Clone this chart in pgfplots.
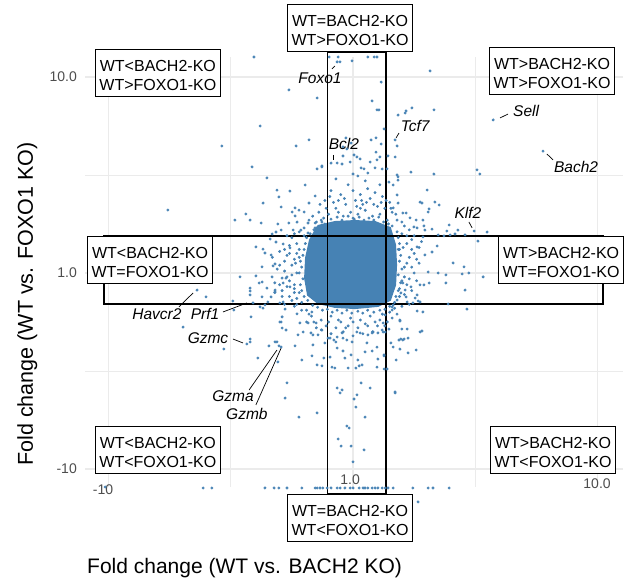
\documentclass[border=0pt]{standalone}
\usepackage{fontspec}
\setmainfont{Liberation Sans}
\usepackage{pgfplots}
\pgfplotsset{compat=1.18}
\definecolor{pt}{HTML}{4682B4}
\definecolor{grd}{HTML}{EBEBEB}
\definecolor{tk}{HTML}{4D4D4D}

\tikzset{
  qbox/.style={draw=black, line width=0.8bp, fill=white, inner xsep=4bp, inner ysep=6bp,
    align=center, font=\fontsize{16bp}{19.3bp}\selectfont},
  gene/.style={font=\fontsize{15.5bp}{18bp}\selectfont\itshape, inner sep=0pt},
  seg/.style={line width=0.7bp, black},
  xtl/.style={font=\fontsize{14bp}{16bp}\selectfont, text=tk, inner sep=0pt},
}
\newcommand{\st}{\rule{0pt}{16bp}}

\begin{document}
\begin{tikzpicture}
\begin{axis}[
  at={(0,0)}, anchor=south west,
  width=538bp, height=430bp, scale only axis,
  xmin=-1.096, xmax=1.104, ymin=-1.092, ymax=1.102,
  clip=false,
  axis line style={draw=none},
  tick style={draw=none},
  xtick={-1,0,1}, minor xtick={-0.5,0.5}, xticklabels={,,},
  ytick={-1,0,1}, minor ytick={-0.5,0.5}, yticklabels={-10,1.0,10.0},
  yticklabel style={font=\fontsize{14bp}{16bp}\selectfont, text=tk, anchor=east, inner sep=0pt, xshift=-8bp},
  grid=both,
  major grid style={grd, line width=1.1bp},
  minor grid style={grd, line width=0.55bp},
]
% dense core of the cloud
\addplot[fill=pt, draw=pt, line width=2bp] coordinates {
  (-0.143,0.240)(-0.074,0.260)(0.008,0.265)(0.090,0.260)(0.151,0.230)(0.172,0.143)
  (0.176,0.041)(0.172,-0.061)(0.151,-0.138)(0.102,-0.168)(0.008,-0.179)(-0.074,-0.173)
  (-0.143,-0.153)(-0.184,-0.112)(-0.196,-0.026)(-0.192,0.077)(-0.176,0.168)(-0.143,0.240)
};
% individual genes
\addplot[pt, only marks, mark=*, mark size=1.25bp] coordinates {
  (-0.098,1.102)(-0.061,1.102)(-0.053,1.077)(-0.004,1.082)(0.061,1.102)(0.086,1.102)(0.098,1.102)(-0.065,1.077)(-0.405,1.102)
  (-0.262,0.934)(-0.147,0.893)(0.315,1.031)(0.115,0.974)(0.078,0.878)(0.098,0.832)(0.106,0.832)(-0.380,0.750)(-0.536,0.648)
  (-0.233,0.648)(-0.180,0.679)(-0.413,0.541)(-0.352,0.485)(-0.196,0.449)(-0.757,0.321)(-0.311,0.423)(-0.258,0.418)(-0.368,0.357)
  (-0.155,0.393)(-0.303,0.388)(-0.147,0.531)(-0.127,0.546)(-0.180,0.357)(-0.294,0.337)(-0.237,0.332)(-0.221,0.321)(-0.200,0.311)
  (-0.249,0.311)(-0.237,0.291)(-0.438,0.301)(-0.483,0.270)(-0.421,0.270)(-0.376,0.255)(-0.307,0.250)(-0.262,0.255)(-0.229,0.260)
  (-0.184,0.255)(-0.155,0.255)(-0.127,0.260)(-0.155,0.230)(-0.315,0.209)(-0.294,0.219)(-0.245,0.219)(-0.213,0.219)(-0.184,0.204)
  (-0.143,0.209)(-0.331,0.199)
  (0.184,0.806)(0.213,0.816)(0.241,0.842)(0.331,0.832)(0.217,0.827)(0.127,0.735)(0.172,0.679)(0.180,0.648)(0.172,0.592)
  (0.143,0.597)(0.115,0.658)(0.094,0.689)(0.074,0.679)(0.094,0.617)(0.110,0.592)(0.098,0.577)(0.070,0.566)(-0.008,0.663)
  (-0.029,0.689)(-0.025,0.633)(0.004,0.602)(0.016,0.592)(0.029,0.582)(-0.012,0.566)(-0.045,0.556)(-0.065,0.561)(-0.090,0.561)
  (-0.127,0.541)(0.033,0.536)(0.045,0.531)(0.061,0.510)(0.090,0.536)(0.119,0.531)(0.139,0.531)(0.180,0.500)(0.237,0.515)
  (0.331,0.505)(0.507,0.526)(0.519,0.505)(0.000,0.505)(0.020,0.495)(-0.041,0.597)(-0.041,0.643)(0.184,0.474)(0.164,0.449)
  (0.147,0.464)(0.184,0.490)(0.180,0.398)(0.303,0.423)(0.274,0.362)(0.311,0.327)(0.307,0.311)(0.335,0.362)(0.352,0.347)
  (0.282,0.357)(0.233,0.281)(0.258,0.270)(0.286,0.270)(0.204,0.306)(0.184,0.357)(0.164,0.332)(0.217,0.306)
  (0.573,0.781)(0.777,0.622)
  (0.384,0.214)(0.393,0.245)(0.417,0.199)(0.429,0.219)(0.495,0.214)(0.548,0.209)(0.511,0.163)(0.458,0.194)(0.397,0.194)
  (0.348,0.194)(0.294,0.219)(0.262,0.230)(0.290,0.240)(0.249,0.235)(0.323,0.224)(0.372,0.189)(0.344,0.138)(0.286,0.184)
  (0.294,0.092)(0.323,0.107)(0.262,0.133)(0.409,0.051)(0.454,0.031)(0.446,-0.005)(0.474,0.000)(0.380,-0.010)(0.348,0.000)
  (0.307,0.005)(0.532,-0.020)(0.380,-0.051)(0.274,-0.061)(0.290,-0.061)(0.204,-0.051)(0.254,-0.128)(0.266,-0.143)(0.221,-0.148)
  (0.151,-0.122)
  (0.311,-0.051)(0.237,-0.071)(0.262,-0.112)(0.213,-0.087)(0.217,-0.122)(0.196,-0.102)(0.180,-0.138)(0.245,-0.153)(0.274,-0.148)
  (0.389,-0.158)(0.458,-0.087)(0.466,-0.184)(0.262,-0.194)(0.286,-0.199)(0.192,-0.240)(0.147,-0.286)(0.200,-0.286)(0.221,-0.286)
  (0.131,-0.301)(0.274,-0.301)(0.282,-0.296)(0.196,-0.337)(0.209,-0.337)(0.225,-0.332)(0.155,-0.357)(0.164,-0.378)(0.258,-0.393)
  (0.225,-0.408)(0.127,-0.418)(0.176,-0.444)(0.127,-0.490)(0.172,-0.612)(0.160,-0.173)(0.160,-0.189)
  (-0.397,0.133)(-0.368,0.122)(-0.339,0.173)(-0.315,0.158)(-0.286,0.148)(-0.258,0.128)(-0.360,0.102)(-0.335,0.092)(-0.372,0.031)
  (-0.327,0.036)(-0.319,0.046)(-0.397,-0.015)(-0.372,-0.046)(-0.331,-0.020)(-0.290,-0.026)(-0.274,-0.026)(-0.286,-0.051)
  (-0.258,-0.071)(-0.319,-0.087)(-0.372,-0.122)(-0.335,-0.122)(-0.286,-0.148)(-0.421,-0.077)(-0.417,-0.224)(-0.380,-0.173)
  (-0.360,-0.163)(-0.290,-0.224)(-0.229,-0.209)(-0.217,-0.255)(-0.184,-0.255)(-0.204,-0.301)(-0.172,-0.306)(-0.143,-0.316)
  (-0.294,-0.250)(-0.225,-0.316)(-0.164,-0.367)(-0.115,-0.357)(-0.102,-0.332)(-0.065,-0.327)(-0.045,-0.306)(-0.025,-0.342)
  (-0.004,-0.352)(0.016,-0.301)(0.061,-0.316)(0.082,-0.301)(0.102,-0.306)(0.057,-0.357)(0.098,-0.378)(0.123,-0.301)(0.123,-0.255)
  (0.131,-0.214)(-0.421,-0.352)(-0.311,-0.352)
  (-0.462,-0.020)(-0.384,-0.051)(-0.352,-0.077)(-0.319,-0.097)(-0.368,-0.179)(-0.348,-0.148)(-0.299,-0.153)(-0.278,-0.184)
  (-0.638,-0.087)(-0.601,-0.122)(-0.695,-0.276)(-0.528,-0.388)(-0.487,-0.189)(-0.491,-0.143)(-0.434,-0.362)(-0.421,-0.337)
  (-0.389,-0.434)(-0.421,-0.092)(-0.421,-0.112)(-0.409,-0.153)(-0.319,-0.352)(-0.344,-0.372)(-0.303,-0.372)(-0.294,-0.378)
  (-0.307,-0.454)(-0.270,-0.561)(-0.278,-0.638)(-0.221,-0.735)(-0.147,-0.714)(-0.237,-0.372)(-0.290,-0.281)(-0.299,-0.250)
  (-0.274,-0.291)(-0.209,-0.444)(-0.168,-0.423)
  (-0.168,-0.199)(-0.151,-0.255)(-0.127,-0.291)(-0.164,-0.316)(-0.094,-0.332)(-0.078,-0.342)(-0.070,-0.352)(-0.041,-0.332)
  (0.000,-0.321)(0.029,-0.306)(0.078,-0.306)(0.119,-0.291)(0.192,-0.245)(0.204,-0.342)(0.188,-0.342)(0.164,-0.163)(-0.065,-0.383)
  (-0.041,-0.398)(-0.033,-0.434)(-0.008,-0.418)(0.020,-0.444)(0.049,-0.403)(0.078,-0.398)(0.102,-0.439)(0.127,-0.423)(0.139,-0.490)
  (0.192,-0.388)(-0.094,-0.429)(-0.119,-0.434)(-0.086,-0.480)(-0.074,-0.485)(-0.127,-0.474)(-0.147,-0.469)(-0.020,-0.485)
  (0.012,-0.485)(0.025,-0.474)(0.037,-0.469)(0.098,-0.480)(-0.065,-0.587)(-0.045,-0.597)(-0.053,-0.612)(0.070,-0.587)(0.033,-0.561)
  (0.016,-0.622)(0.004,-0.643)(0.012,-0.684)(0.049,-0.735)(-0.025,-0.781)(-0.016,-0.791)(-0.061,-0.847)(-0.049,-0.883)
  (-0.008,-0.883)(0.045,-0.903)(0.000,-0.964)(0.172,-0.607)
  (-0.613,-1.097)(-0.577,-1.097)(-0.360,-1.097)(-0.323,-1.097)(-0.303,-1.097)(-0.270,-1.097)(-0.209,-1.097)(-0.155,-1.097)
  (-0.147,-1.097)(-0.135,-1.097)(-0.123,-1.097)(-0.106,-1.097)(-0.090,-1.097)(-0.065,-1.097)(-0.053,-1.097)(-0.033,-1.097)
  (-0.012,-1.097)(0.000,-1.097)(0.025,-1.097)(0.041,-1.097)(0.049,-1.097)(0.061,-1.097)(0.078,-1.097)(0.090,-1.097)
  (0.102,-1.097)(0.119,-1.097)(0.131,-1.097)(0.143,-1.097)(0.164,-1.097)(0.245,-1.097)(0.307,-1.097)(0.327,-1.097)
  (0.393,-1.097)(-1.014,-1.092)(0.266,-1.168)
  (-0.10,0.30)(-0.07,0.33)(-0.04,0.29)(-0.01,0.31)(0.02,0.30)(0.05,0.32)(0.08,0.29)(0.11,0.30)(0.14,0.27)(-0.12,0.28)
  (-0.08,0.36)(-0.03,0.35)(0.01,0.37)(0.04,0.35)(0.07,0.38)(0.10,0.34)(0.13,0.33)(-0.11,0.33)(-0.05,0.40)(0.00,0.42)
  (0.03,0.40)(0.06,0.43)(0.09,0.41)(0.12,0.39)(-0.09,0.42)(-0.02,0.45)(0.05,0.47)(0.11,0.45)(-0.07,0.48)(0.15,0.36)
  (0.16,0.31)(-0.14,0.31)(0.00,0.28)(0.03,0.33)(-0.06,0.31)
  (-0.23,0.15)(-0.26,0.10)(-0.22,0.08)(-0.25,0.04)(-0.28,0.06)(-0.23,0.00)(-0.27,-0.02)(-0.24,-0.06)(-0.22,-0.10)(-0.26,-0.12)
  (-0.21,-0.15)(-0.30,0.11)(-0.31,0.02)(-0.29,-0.09)(-0.25,0.18)(-0.20,0.19)(-0.32,-0.05)(-0.24,-0.17)(-0.28,-0.16)(-0.19,-0.19)
  (-0.33,0.08)(-0.22,0.12)(-0.26,-0.04)(-0.23,-0.13)
  (0.20,0.20)(0.22,0.15)(0.19,0.12)(0.23,0.08)(0.21,0.03)(0.25,0.00)(0.20,-0.04)(0.23,-0.03)(0.19,-0.08)(0.27,0.05)
  (0.24,0.12)(0.26,-0.04)(0.21,0.24)(0.18,0.27)(0.28,0.16)(0.19,-0.12)(0.22,0.19)(0.25,0.10)
  (-0.17,-0.22)(-0.13,-0.24)(-0.09,-0.22)(-0.05,-0.25)(-0.01,-0.23)(0.03,-0.24)(0.07,-0.22)(0.11,-0.24)(0.15,-0.20)(-0.11,-0.27)
  (-0.07,-0.28)(-0.02,-0.27)(0.02,-0.28)(0.06,-0.27)(0.10,-0.27)(0.14,-0.25)(-0.15,-0.28)(-0.09,-0.31)(-0.04,-0.30)(0.04,-0.31)
  (0.08,-0.30)(-0.19,-0.25)(0.17,-0.18)(0.12,-0.21)
  (-0.15,0.26)(-0.13,0.27)(-0.115,0.25)(-0.09,0.275)(-0.065,0.285)(-0.045,0.27)(-0.02,0.29)(0.005,0.275)(0.025,0.285)
  (0.045,0.27)(0.065,0.28)(0.085,0.27)(0.105,0.285)(0.125,0.26)(0.145,0.25)(0.16,0.24)(-0.16,0.22)
  (0.18,0.21)(0.185,0.18)(0.19,0.15)(0.185,0.12)(0.195,0.09)(0.19,0.06)(0.20,0.02)(0.185,-0.01)(0.195,-0.05)(0.185,-0.09)
  (0.175,-0.12)(0.17,-0.15)(0.205,0.13)(0.21,-0.02)
  (0.15,-0.17)(0.13,-0.185)(0.11,-0.19)(0.085,-0.20)(0.06,-0.19)(0.04,-0.205)(0.02,-0.195)(-0.005,-0.205)(-0.025,-0.19)
  (-0.045,-0.205)(-0.065,-0.19)(-0.085,-0.20)(-0.105,-0.185)(-0.125,-0.19)(-0.145,-0.175)(-0.165,-0.165)(-0.185,-0.14)
  (-0.20,-0.12)(-0.21,-0.09)(-0.215,-0.06)(-0.205,-0.03)(-0.22,0.00)(-0.21,0.03)(-0.215,0.06)(-0.205,0.09)(-0.20,0.12)
  (-0.195,0.15)(-0.19,0.18)(-0.175,0.20)(-0.235,0.05)(-0.24,-0.08)(-0.23,0.10)
  (-0.135,0.35)(-0.115,0.37)(-0.095,0.39)(-0.06,0.37)(-0.035,0.38)(0.015,0.34)(0.035,0.37)(0.055,0.36)(0.085,0.35)
  (0.115,0.36)(0.135,0.37)(0.155,0.33)(0.175,0.30)(-0.165,0.29)(-0.18,0.27)
  (-0.20,0.23)(-0.22,0.21)(-0.24,0.20)(-0.27,0.19)(-0.26,0.14)(-0.28,0.12)
  (0.20,0.26)(0.23,0.22)(0.25,0.19)(0.24,0.17)(0.27,0.13)(0.26,0.07)
  (0.22,0.05)(0.24,0.03)(0.22,-0.06)(0.24,-0.09)(0.21,-0.11)(0.23,-0.16)(0.20,-0.17)(0.18,-0.21)
  (0.16,-0.23)(0.13,-0.27)(0.09,-0.25)(0.05,-0.26)(0.00,-0.25)(-0.03,-0.28)(-0.06,-0.24)(-0.10,-0.25)(-0.13,-0.29)
  (-0.16,-0.25)(-0.18,-0.21)(-0.21,-0.19)
  (-0.23,-0.16)(-0.25,-0.14)(-0.24,-0.10)(-0.27,-0.07)(-0.25,-0.01)(-0.28,0.01)(-0.24,0.07)(-0.27,0.09)(-0.30,0.04)
  (-0.30,-0.06)(-0.29,-0.12)(-0.32,-0.10)
};
% threshold bands
\draw[line width=1.2bp, black] (axis cs:-1.018,-0.158) rectangle (axis cs:1.022,0.189);
\draw[line width=1.2bp, black] (axis cs:-0.106,-1.128) rectangle (axis cs:0.135,1.128);
% quadrant boxes
\node[qbox] at (axis cs:-0.012,1.25) {\st WT=BACH2-KO\\WT>FOXO1-KO};
\node[qbox] at (axis cs:-0.798,1.020) {\st WT<BACH2-KO\\WT>FOXO1-KO};
\node[qbox] at (axis cs:0.814,1.031) {\st WT>BACH2-KO\\WT>FOXO1-KO};
\node[qbox] at (axis cs:-0.830,0.066) {\st WT<BACH2-KO\\WT=FOXO1-KO};
\node[qbox] at (axis cs:0.851,0.066) {\st WT>BACH2-KO\\WT=FOXO1-KO};
\node[qbox] at (axis cs:-0.798,-0.903) {\st WT<BACH2-KO\\WT<FOXO1-KO};
\node[qbox] at (axis cs:0.818,-0.903) {\st WT>BACH2-KO\\WT<FOXO1-KO};
\node[qbox] at (axis cs:-0.012,-1.25) {\st WT=BACH2-KO\\WT<FOXO1-KO};
% gene labels
\node[gene] at (axis cs:-0.135,0.995) {Foxo1};
\draw[seg] (axis cs:-0.086,1.041) -- (axis cs:-0.074,1.056);
\node[gene] at (axis cs:-0.037,0.658) {Bcl2};
\draw[seg] (axis cs:-0.082,0.602) -- (axis cs:-0.082,0.577);
\node[gene] at (axis cs:0.254,0.750) {Tcf7};
\draw[seg] (axis cs:0.188,0.714) -- (axis cs:0.176,0.689);
\node[gene] at (axis cs:0.708,0.827) {Sell};
\draw[seg] (axis cs:0.601,0.791) -- (axis cs:0.634,0.811);
\node[gene] at (axis cs:0.912,0.541) {Bach2};
\draw[seg] (axis cs:0.793,0.607) -- (axis cs:0.818,0.577);
\node[gene] at (axis cs:0.470,0.306) {Klf2};
\draw[seg] (axis cs:0.474,0.260) -- (axis cs:0.487,0.230);
\node[gene] at (axis cs:-0.802,-0.209) {Havcr2};
\draw[seg] (axis cs:-0.712,-0.173) -- (axis cs:-0.654,-0.102);
\node[gene] at (axis cs:-0.605,-0.209) {Prf1};
\draw[seg] (axis cs:-0.532,-0.199) -- (axis cs:-0.434,-0.153);
\node[gene] at (axis cs:-0.593,-0.332) {Gzmc};
\draw[seg] (axis cs:-0.491,-0.337) -- (axis cs:-0.450,-0.357);
\node[gene] at (axis cs:-0.491,-0.628) {Gzma};
\draw[seg] (axis cs:-0.425,-0.597) -- (axis cs:-0.311,-0.393);
\node[gene] at (axis cs:-0.434,-0.719) {Gzmb};
\draw[seg] (axis cs:-0.397,-0.673) -- (axis cs:-0.294,-0.383);
% x tick labels
\node[xtl] at (axis cs:-1.022,-1.107) {-10};
\node[xtl] at (axis cs:-0.012,-1.056) {1.0};
\node[xtl] at (axis cs:0.998,-1.076) {10.0};
\end{axis}
\node[anchor=base west, inner sep=0pt, font=\fontsize{21bp}{24bp}\selectfont] at (2bp,-86bp) {Fold change (WT vs. BACH2 KO)};
\node[anchor=base, rotate=90, inner sep=0pt, font=\fontsize{21.5bp}{24bp}\selectfont] at (-52bp,183bp) {Fold change (WT vs. FOXO1 KO)};
\pgfresetboundingbox
\path[use as bounding box] (-85bp,-95bp) rectangle (549bp,487bp);
\end{tikzpicture}
\end{document}
